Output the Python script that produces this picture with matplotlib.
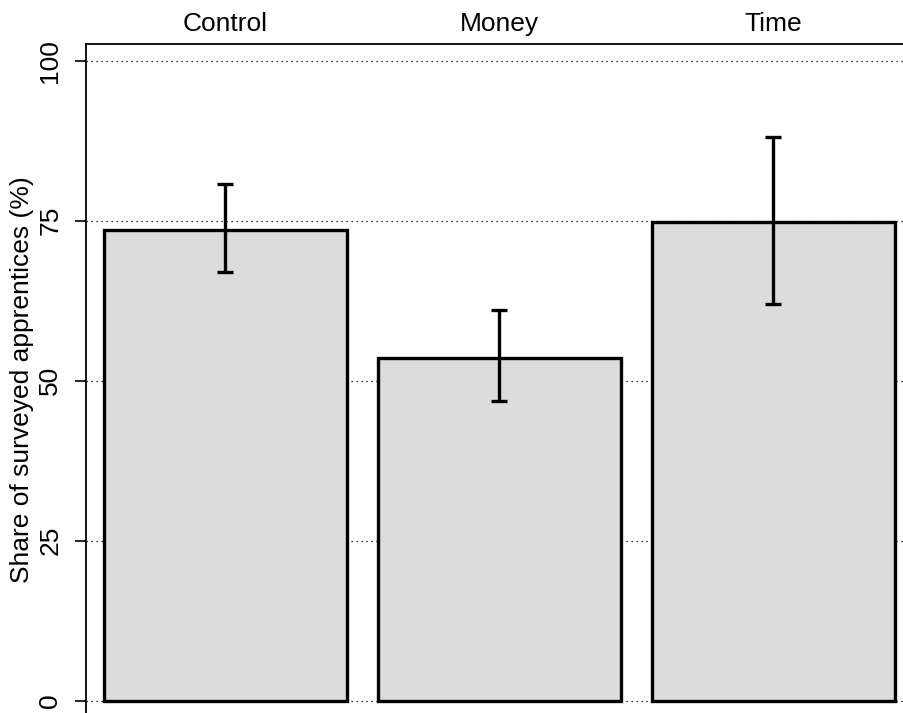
import matplotlib
matplotlib.use("Agg")
import matplotlib.pyplot as plt
import matplotlib.transforms as mtransforms

plt.rcParams['font.family'] = ['Liberation Sans', 'DejaVu Sans']

groups = ["Control", "Money", "Time"]
share = [73.5, 53.6, 74.75]
ci_low = [67.0, 46.8, 62.0]
ci_high = [80.7, 61.0, 88.1]
yticks = [0, 25, 50, 75, 100]

W, H = 904, 713
fig = plt.figure(figsize=(W / 100, H / 100), dpi=100)

# axes box runs past the right and bottom edges of the figure
left_px, top_px, right_px, bottom_px = 86, 44, 950, 730
ax = fig.add_axes([left_px / W, 1 - bottom_px / H,
                   (right_px - left_px) / W, (bottom_px - top_px) / H])

px_per_unit = 6.4
zero_px = 700.7
ax.set_ylim((zero_px - bottom_px) / px_per_unit, (zero_px - top_px) / px_per_unit)
bar_step = 274.0
first_center = 225.5
ax.set_xlim((left_px - first_center) / bar_step, (right_px - first_center) / bar_step)

x = list(range(len(groups)))
for v in yticks:
    ax.axhline(v, color="black", linestyle=(0, (1, 3)), linewidth=0.9, zorder=0)

ax.bar(x, share, width=243 / bar_step, color="#dcdcdc", edgecolor="black",
       linewidth=2.4, zorder=2)
err_lo = [s - l for s, l in zip(share, ci_low)]
err_hi = [h - s for s, h in zip(share, ci_high)]
ax.errorbar(x, share, yerr=[err_lo, err_hi], fmt="none", ecolor="black",
            elinewidth=2.4, capsize=5.5, capthick=2.4, zorder=3)

ax.set_xticks([])
ax.set_yticks(yticks)
ax.set_yticklabels([str(v) for v in yticks], rotation=90, va="center", fontsize=19)
ax.tick_params(axis="y", length=8, width=1.2, pad=9, direction="out")
for side in ("left", "top", "right", "bottom"):
    ax.spines[side].set_linewidth(1.3)

trans = mtransforms.blended_transform_factory(ax.transData, fig.transFigure)
for xi, name in zip(x, groups):
    ax.text(xi, 1 - 24 / H, name, transform=trans, ha="center", va="center",
            fontsize=19)

fig.text(22 / W, 1 - 380 / H, "Share of surveyed apprentices (%)", rotation=90,
         ha="center", va="center", fontsize=19)

fig.savefig("out.png", dpi=100)
